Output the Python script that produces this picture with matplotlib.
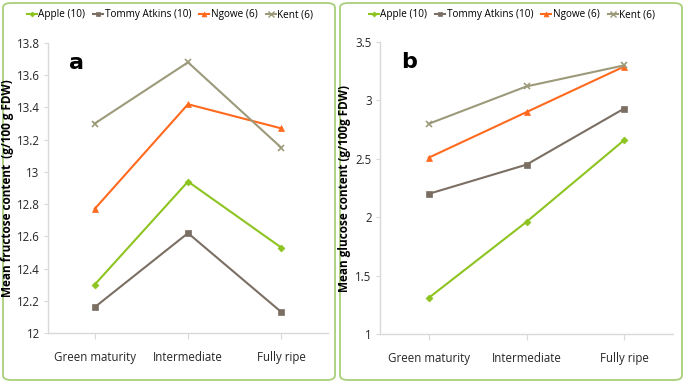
import matplotlib.pyplot as plt
from matplotlib import font_manager
from matplotlib.patches import FancyBboxPatch
from matplotlib.lines import Line2D

# ── Data ─────────────────────────────────────────────────
stages = ["Green maturity", "Intermediate", "Fully ripe"]
series = ["Apple (10)", "Tommy Atkins (10)", "Ngowe (6)", "Kent (6)"]

fructose_apple = [12.30, 12.94, 12.53]
fructose_tommy = [12.16, 12.62, 12.13]
fructose_ngowe = [12.77, 13.42, 13.27]
fructose_kent = [13.30, 13.68, 13.15]

glucose_apple = [1.31, 1.96, 2.66]
glucose_tommy = [2.20, 2.45, 2.93]
glucose_ngowe = [2.51, 2.90, 3.29]
glucose_kent = [2.80, 3.12, 3.30]

fructose_ticks = [12, 12.2, 12.4, 12.6, 12.8, 13, 13.2, 13.4, 13.6, 13.8]
fructose_ticklabels = ["12", "12.2", "12.4", "12.6", "12.8", "13", "13.2", "13.4", "13.6", "13.8"]
glucose_ticks = [1, 1.5, 2, 2.5, 3, 3.5]
glucose_ticklabels = ["1", "1.5", "2", "2.5", "3", "3.5"]

# ── Style ────────────────────────────────────────────────
colors = ["#8DC420", "#7B6F64", "#FF6A1F", "#9C9A7A"]
markers = ["D", "s", "^", "x"]
msizes = [3.5, 4.5, 4.5, 5]
AXIS_GRAY = "#D9D9D9"
BORDER = "#A9CF7A"

# narrow font for Calibri-like tick text, if available
installed = {f.name for f in font_manager.fontManager.ttflist}
if "Liberation Sans Narrow" in installed:
    TICK_FONT = "Liberation Sans Narrow"
    TICK_SIZE = 9.5
else:
    TICK_FONT = "Open Sans" if "Open Sans" in installed else "DejaVu Sans"
    TICK_SIZE = 8.3
LABEL_FONT = "Open Sans" if "Open Sans" in installed else "DejaVu Sans"

fig = plt.figure(figsize=(6.85, 3.83), dpi=100)
fig.patch.set_facecolor("white")

# rounded green frames around each panel
for x0, x1 in [(3, 335), (340, 682)]:
    fig.add_artist(FancyBboxPatch(
        (x0 / 685, 3 / 383), (x1 - x0) / 685, 377 / 383,
        boxstyle="round,pad=0,rounding_size=0.012",
        transform=fig.transFigure, facecolor="none",
        edgecolor=BORDER, linewidth=1.3, zorder=-1))

ax1 = fig.add_axes([48 / 685, 1 - 333 / 383, 280 / 685, 290 / 383])
ax2 = fig.add_axes([380 / 685, 1 - 334 / 383, 293 / 685, 292 / 383])

panels = [
    (ax1, [fructose_apple, fructose_tommy, fructose_ngowe, fructose_kent],
     fructose_ticks, fructose_ticklabels, "Mean fructose content  (g/100 g FDW)", "a", -0.12),
    (ax2, [glucose_apple, glucose_tommy, glucose_ngowe, glucose_kent],
     glucose_ticks, glucose_ticklabels, "Mean glucose content (g/100g FDW)", "b", -0.10),
]

x = range(len(stages))
for ax, data, ticks, ticklabels, ylabel, letter, label_x in panels:
    ax.set_facecolor("none")
    for vals, c, m, ms, name in zip(data, colors, markers, msizes, series):
        ax.plot(x, vals, color=c, marker=m, markersize=ms, linewidth=1.5,
                markeredgewidth=1.2 if m == "x" else 0.5, label=name, clip_on=False)

    ax.set_xlim(-0.5, 2.5)
    ax.set_ylim(ticks[0], ticks[-1])
    ax.set_yticks(ticks)
    ax.set_yticklabels(ticklabels, family=TICK_FONT, fontsize=TICK_SIZE, color="#262626")
    ax.set_xticks(list(x))
    ax.set_xticklabels(stages, family=TICK_FONT, fontsize=TICK_SIZE, color="#262626")
    ax.tick_params(axis="x", length=4, color=AXIS_GRAY, pad=9)
    ax.tick_params(axis="y", length=3, color=AXIS_GRAY, pad=3)

    for s in ["top", "right"]:
        ax.spines[s].set_visible(False)
    for s in ["left", "bottom"]:
        ax.spines[s].set_color(AXIS_GRAY)
        ax.spines[s].set_linewidth(1.0)

    ax.set_ylabel(ylabel, family=LABEL_FONT, fontsize=8.5, fontweight="bold", color="black")
    ax.yaxis.set_label_coords(label_x, 0.5)
    ax.text(0.1, 0.965, letter, transform=ax.transAxes, fontsize=16,
            fontweight="bold", ha="center", va="top")

# ── Legends ──────────────────────────────────────────────
handles = [Line2D([0], [0], color=c, marker=m, markersize=ms - 1, linewidth=1.5,
                  markeredgewidth=1.0 if m == "x" else 0.5)
           for c, m, ms in zip(colors, markers, msizes)]
for cx in [170 / 685, 512 / 685]:
    fig.legend(handles, series, loc="center", bbox_to_anchor=(cx, 1 - 15 / 383),
               ncol=4, frameon=False, handlelength=1.0, handletextpad=0.15,
               columnspacing=0.8, prop={"family": TICK_FONT, "size": 7.2})

fig.savefig("out.png", dpi=100, facecolor="white")
